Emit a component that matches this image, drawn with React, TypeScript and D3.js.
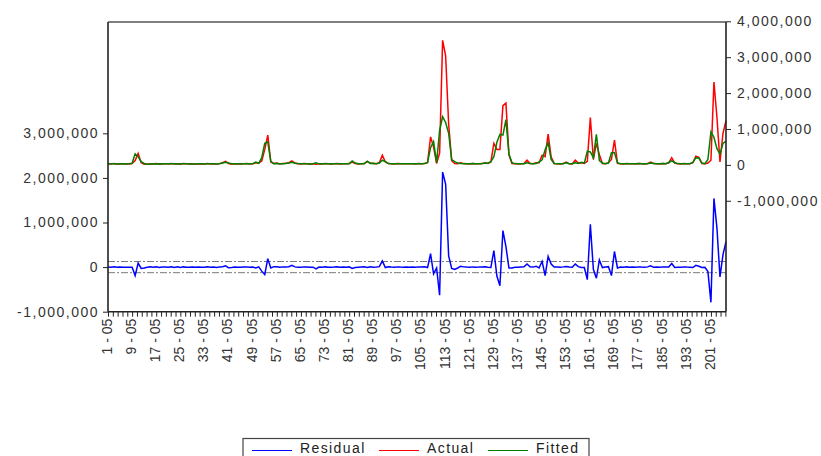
import React, { useEffect, useRef } from 'react';
import * as d3 from 'd3';

// Actual and fitted values, in thousands, one per cross-section (1 .. 206)
const actual = [
  30, 25, 35, 20, 30, 28, 22, 26, 40, 120,
  320, 60, 20, 15, 30, 25, 35, 20, 28, 30,
  25, 40, 22, 30, 18, 35, 28, 25, 30, 20,
  30, 26, 22, 40, 25, 30, 20, 35, 60, 100,
  40, 20, 30, 25, 22, 30, 35, 25, 30, 60,
  50, 110, 430, 830, 80, 40, 50, 25, 35, 45,
  60, 110, 50, 30, 25, 35, 30, 20, 28, 20,
  30, 25, 35, 28, 22, 30, 40, 25, 30, 28,
  35, 80, 40, 25, 30, 35, 90, 50, 40, 30,
  60, 270, 80, 40, 30, 25, 35, 30, 28, 30,
  28, 30, 25, 35, 30, 40, 60, 780, 500, 40,
  330, 3470, 3040, 1130, 120, 40, 30, 60, 35, 30,
  25, 40, 28, 30, 35, 60, 40, 80, 600, 430,
  430, 1650, 1720, 280, 40, 30, 25, 30, 35, 130,
  40, 30, 60, 60, 270, 230, 860, 220, 40, 30,
  25, 35, 75, 30, 28, 130, 50, 60, 40, 100,
  1320, 150, 600, 280, 40, 30, 60, 150, 690, 40,
  30, 25, 35, 28, 30, 25, 40, 30, 25, 35,
  80, 35, 30, 25, 40, 30, 60, 200, 50, 30,
  25, 35, 30, 28, 60, 240, 210, 40, 30, 50,
  130, 2310, 1320, 80, 880, 1230,
];

const fitted = [
  28, 30, 30, 25, 27, 30, 25, 30, 45, 310,
  230, 90, 40, 20, 25, 28, 26, 30, 25, 30,
  28, 30, 30, 25, 28, 30, 30, 27, 26, 25,
  28, 30, 26, 32, 28, 30, 27, 30, 50, 70,
  55, 30, 28, 30, 25, 28, 30, 28, 30, 80,
  45, 200, 600, 640, 100, 30, 40, 30, 30, 40,
  50, 70, 45, 35, 28, 30, 30, 25, 30, 60,
  28, 30, 30, 30, 26, 30, 32, 28, 30, 30,
  30, 110, 50, 30, 30, 30, 100, 40, 45, 30,
  50, 130, 90, 35, 30, 28, 30, 30, 30, 30,
  30, 30, 28, 30, 30, 35, 70, 480, 650, 60,
  960, 1340, 1180, 880, 150, 90, 50, 40, 30, 30,
  28, 35, 30, 30, 30, 50, 45, 90, 230, 630,
  850, 830, 1260, 300, 60, 35, 30, 30, 30, 60,
  35, 30, 40, 80, 140, 420, 620, 150, 40, 30,
  28, 30, 60, 30, 30, 60, 40, 70, 50, 380,
  360, 200, 850, 120, 50, 30, 50, 340, 340, 60,
  30, 30, 30, 30, 28, 28, 35, 30, 28, 30,
  50, 40, 30, 30, 35, 30, 60, 120, 60, 35,
  30, 30, 30, 30, 70, 200, 190, 50, 35, 150,
  920, 770, 450, 300, 600, 660,
];

// labelled cross-sections (year 05)
const labelIds = [1, 9, 17, 25, 33, 41, 49, 57, 65, 73, 81, 89, 97, 105, 113, 121, 129, 137, 145, 153, 161, 169, 177, 185, 193, 201];
const leftTicks = [-1000000, 0, 1000000, 2000000, 3000000];
const rightTicks = [-1000000, 0, 1000000, 2000000, 3000000, 4000000];
const seOfRegression = 125000;

const legendItems = [
  { name: 'Residual', color: '#0000ff' },
  { name: 'Actual', color: '#ff0000' },
  { name: 'Fitted', color: '#008000' },
];

const W = 821;
const H = 456;
const plot = { left: 108, right: 726, top: 22, bottom: 311.7 };
const font = "'Liberation Sans', Arial, sans-serif";

const App = () => {
  const svgRef = useRef<SVGSVGElement>(null);

  useEffect(() => {
    const svg = d3.select(svgRef.current);
    svg.selectAll('*').remove();

    const n = actual.length;
    const rows = actual.map((a, i) => ({
      id: i + 1,
      actual: a * 1000,
      fitted: fitted[i] * 1000,
      resid: (a - fitted[i]) * 1000,
    }));

    const x = d3.scaleLinear().domain([1, n]).range([plot.left, plot.right]);
    const yL = d3.scaleLinear().domain([-1000000, 5496000]).range([plot.bottom, plot.top]);
    const yR = d3.scaleLinear().domain([-4090000, 3980000]).range([plot.bottom, plot.top]);

    const fmt = (d: number) => d3.format(',')(d).replace('\u2212', '-');

    // +/- 1 S.E. band lines
    [seOfRegression, -seOfRegression].forEach((v) => {
      svg.append('line')
        .attr('x1', plot.left).attr('x2', plot.right)
        .attr('y1', yL(v)).attr('y2', yL(v))
        .attr('stroke', '#7a7a7a')
        .attr('stroke-width', 1)
        .attr('stroke-dasharray', '7,2,2,2');
    });

    const lineOf = (acc: (d: any) => number) => d3.line<any>().x((d) => x(d.id)).y(acc);

    svg.append('path').datum(rows)
      .attr('fill', 'none').attr('stroke', '#0000ff').attr('stroke-width', 1.5)
      .attr('d', lineOf((d) => yL(d.resid)));
    svg.append('path').datum(rows)
      .attr('fill', 'none').attr('stroke', '#ff0000').attr('stroke-width', 1.5)
      .attr('d', lineOf((d) => yR(d.actual)));
    svg.append('path').datum(rows)
      .attr('fill', 'none').attr('stroke', '#008000').attr('stroke-width', 1.5)
      .attr('d', lineOf((d) => yR(d.fitted)));

    // Frame
    svg.append('line')
      .attr('x1', plot.left).attr('x2', plot.right).attr('y1', plot.top).attr('y2', plot.top)
      .attr('stroke', '#555').attr('stroke-width', 1.5);

    const styleAxis = (g: any) => {
      g.select('.domain').remove();
      g.selectAll('.tick line').attr('stroke', '#222').attr('stroke-width', 1);
      g.selectAll('.tick text')
        .attr('fill', '#333')
        .attr('font-size', 14)
        .attr('font-family', font)
        .attr('letter-spacing', '1.5px');
    };

    const leftAxis = svg.append('g')
      .attr('transform', `translate(${plot.left},0)`)
      .call(d3.axisLeft(yL).tickValues(leftTicks).tickSize(5).tickSizeOuter(0).tickPadding(4).tickFormat(fmt as any));
    styleAxis(leftAxis);

    const rightAxis = svg.append('g')
      .attr('transform', `translate(${plot.right},0)`)
      .call(d3.axisRight(yR).tickValues(rightTicks).tickSize(5).tickSizeOuter(0).tickPadding(6).tickFormat(fmt as any));
    styleAxis(rightAxis);

    const bottomAxis = svg.append('g')
      .attr('transform', `translate(0,${plot.bottom})`)
      .call(d3.axisBottom(x).tickValues(d3.range(1, n + 0.01, 1.6)).tickSize(5).tickSizeOuter(0).tickFormat(() => ''));
    styleAxis(bottomAxis);

    svg.selectAll('.x-label')
      .data(labelIds)
      .enter().append('text')
      .attr('class', 'x-label')
      .attr('transform', (d) => `translate(${x(d) - 1},${plot.bottom + 7}) rotate(-90)`)
      .attr('text-anchor', 'end')
      .attr('dy', '0.35em')
      .attr('fill', '#333')
      .attr('font-size', 14)
      .attr('font-family', font)
      .text((d) => `${d} - 05`);

    [
      [plot.left, plot.top, plot.left, plot.bottom],
      [plot.right, plot.top, plot.right, plot.bottom],
      [plot.left, plot.bottom, plot.right, plot.bottom],
    ].forEach(([x1, y1, x2, y2]) => {
      svg.append('line')
        .attr('x1', x1).attr('y1', y1).attr('x2', x2).attr('y2', y2)
        .attr('stroke', '#222').attr('stroke-width', 1.6);
    });

    // Legend
    const legend = svg.append('g').attr('transform', 'translate(243,438.5)');
    legend.append('rect')
      .attr('width', 346).attr('height', 22)
      .attr('fill', 'white').attr('stroke', '#444').attr('stroke-width', 1.2);
    const offsets = [9, 136, 245];
    legendItems.forEach((item, i) => {
      const g = legend.append('g').attr('transform', `translate(${offsets[i]},0)`);
      g.append('line')
        .attr('x1', 0).attr('x2', 40).attr('y1', 12).attr('y2', 12)
        .attr('stroke', item.color).attr('stroke-width', 1.2);
      g.append('text')
        .attr('x', 48).attr('y', 14.8)
        .attr('fill', '#222')
        .attr('font-size', 14)
        .attr('font-family', font)
        .attr('letter-spacing', '1.4px')
        .text(item.name);
    });
  }, []);

  return (
    <svg ref={svgRef} width={W} height={H} style={{ position: 'absolute', left: 0, top: 0, background: 'white' }} />
  );
};

export default App;
